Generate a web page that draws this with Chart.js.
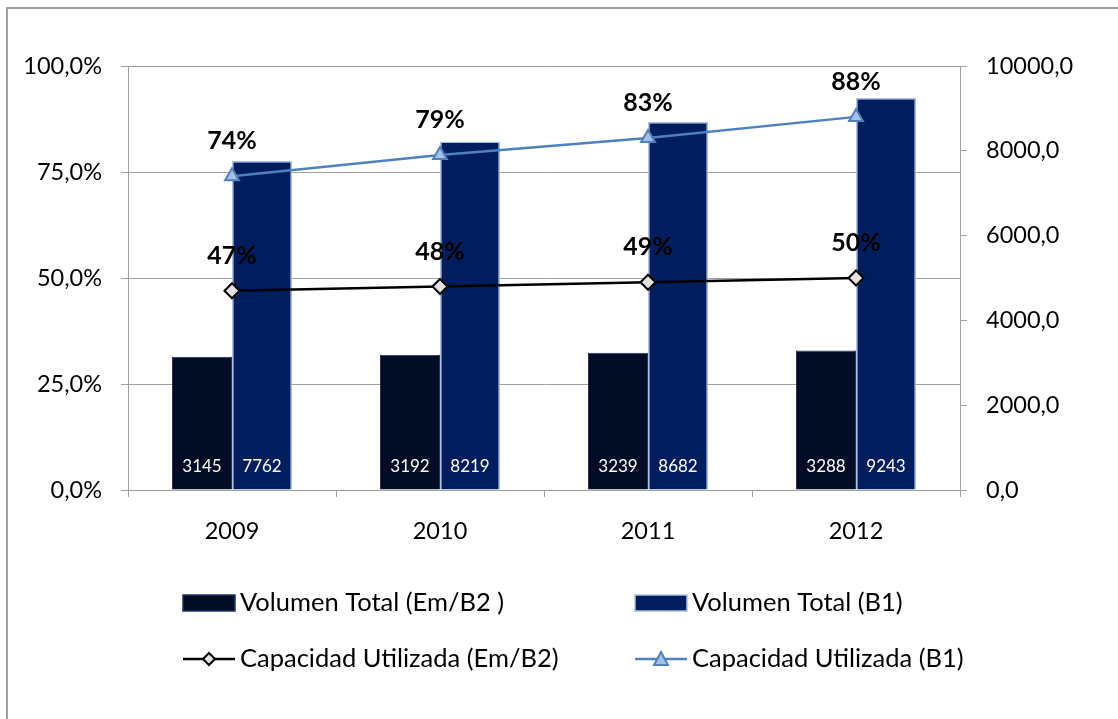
<!DOCTYPE html>
<html>
<head>
<meta charset="utf-8">
<script src="https://cdn.jsdelivr.net/npm/chart.js@4.4.1/dist/chart.umd.min.js"></script>
<style>
  html, body { margin: 0; padding: 0; background: #fff; }
  #wrap { position: relative; width: 1118px; height: 719px; overflow: hidden; }
</style>
</head>
<body>
<div id="wrap"><canvas id="myChart" width="1118" height="719"></canvas></div>
<script>
const years = ['2009', '2010', '2011', '2012'];
const volumenEmB2 = [3145, 3192, 3239, 3288];
const volumenB1 = [7762, 8219, 8682, 9243];
const capacidadEmB2 = [0.47, 0.48, 0.49, 0.50];
const capacidadB1 = [0.74, 0.79, 0.83, 0.88];

const FONT = 'Lato, "Open Sans", sans-serif';
const GRID = '#a0a0a0';

// outer frame (only top and left edge are inside the canvas)
const framePlugin = {
    id: 'frame',
    beforeDraw: function(chart) {
        const ctx = chart.ctx;
        ctx.save();
        ctx.strokeStyle = '#a0a0a0';
        ctx.lineWidth = 2;
        ctx.beginPath();
        ctx.moveTo(7, chart.height + 5);
        ctx.lineTo(7, 8);
        ctx.lineTo(chart.width + 5, 8);
        ctx.stroke();
        ctx.restore();
    }
};

// value labels: numbers inside the bars, bold percentages above the points
const labelsPlugin = {
    id: 'valueLabels',
    afterDatasetsDraw: function(chart) {
        const ctx = chart.ctx;
        ctx.save();
        ctx.textAlign = 'center';
        ctx.textBaseline = 'middle';
        chart.data.datasets.forEach(function(ds, i) {
            const meta = chart.getDatasetMeta(i);
            meta.data.forEach(function(el, j) {
                const v = ds.data[j];
                if (ds.type === 'bar') {
                    ctx.fillStyle = '#ffffff';
                    ctx.font = '17px ' + FONT;
                    ctx.fillText(String(v), el.x, el.base - 23);
                } else {
                    ctx.fillStyle = '#000000';
                    ctx.font = 'bold 25px ' + FONT;
                    ctx.fillText(Math.round(v * 100) + '%', el.x, el.y - 35);
                }
            });
        });
        ctx.restore();
    }
};

// two-column legend under the chart
const legendPlugin = {
    id: 'gridLegend',
    afterDraw: function(chart) {
        const ctx = chart.ctx;
        const cols = [183, 635];
        const rows = [603, 659];
        const ds = chart.data.datasets;
        const slots = [[0, 0, 0], [1, 1, 0], [2, 0, 1], [3, 1, 1]];
        ctx.save();
        ctx.font = '25.5px ' + FONT;
        ctx.textBaseline = 'middle';
        ctx.textAlign = 'left';
        slots.forEach(function(s) {
            const d = ds[s[0]];
            const x = cols[s[1]];
            const y = rows[s[2]];
            if (d.type === 'bar') {
                ctx.fillStyle = d.backgroundColor;
                ctx.fillRect(x, y - 8, 52, 16);
                ctx.strokeStyle = d.borderColor;
                ctx.lineWidth = 1.5;
                ctx.strokeRect(x, y - 8, 52, 16);
            } else {
                ctx.strokeStyle = d.borderColor;
                ctx.lineWidth = d.borderWidth;
                ctx.beginPath();
                ctx.moveTo(x, y);
                ctx.lineTo(x + 52, y);
                ctx.stroke();
                ctx.fillStyle = d.pointBackgroundColor;
                ctx.strokeStyle = d.pointBorderColor;
                ctx.lineWidth = 2;
                ctx.beginPath();
                const cx = x + 26;
                if (d.pointStyle === 'triangle') {
                    ctx.moveTo(cx, y - 7);
                    ctx.lineTo(cx + 7, y + 6);
                    ctx.lineTo(cx - 7, y + 6);
                } else {
                    ctx.moveTo(cx, y - 6);
                    ctx.lineTo(cx + 6, y);
                    ctx.lineTo(cx, y + 6);
                    ctx.lineTo(cx - 6, y);
                }
                ctx.closePath();
                ctx.fill();
                ctx.stroke();
            }
            ctx.fillStyle = '#000';
            ctx.fillText(d.label, x + 57, y);
        });
        ctx.restore();
    }
};

const ctx = document.getElementById('myChart').getContext('2d');
const myChart = new Chart(ctx, {
    data: {
        labels: years,
        datasets: [
            {
                type: 'bar',
                label: 'Volumen Total (Em/B2 )',
                data: volumenEmB2,
                yAxisID: 'y1',
                backgroundColor: '#020c24',
                borderColor: '#1d3566',
                borderWidth: 1,
                categoryPercentage: 0.577,
                barPercentage: 1.0,
                order: 2
            },
            {
                type: 'bar',
                label: 'Volumen Total (B1)',
                data: volumenB1,
                yAxisID: 'y1',
                backgroundColor: '#001e5e',
                borderColor: '#a9c1e8',
                borderWidth: 1.5,
                categoryPercentage: 0.577,
                barPercentage: 1.0,
                order: 2
            },
            {
                type: 'line',
                label: 'Capacidad Utilizada (Em/B2)',
                data: capacidadEmB2,
                yAxisID: 'y',
                borderColor: '#000000',
                borderWidth: 2.5,
                pointStyle: 'rectRot',
                pointRadius: 7.5,
                pointBorderWidth: 2,
                pointBackgroundColor: '#e2e2e2',
                pointBorderColor: '#000000',
                tension: 0,
                order: 1
            },
            {
                type: 'line',
                label: 'Capacidad Utilizada (B1)',
                data: capacidadB1,
                yAxisID: 'y',
                borderColor: '#4f81bd',
                borderWidth: 2.5,
                pointStyle: 'triangle',
                pointRadius: 8,
                pointBorderWidth: 2,
                pointBackgroundColor: '#a5c0ea',
                pointBorderColor: '#4f81bd',
                tension: 0,
                order: 0
            }
        ]
    },
    options: {
        responsive: false,
        animation: false,
        layout: { padding: { top: 66, left: 0, right: 0, bottom: 0 } },
        plugins: {
            legend: { display: false },
            tooltip: { enabled: false }
        },
        scales: {
            x: {
                afterFit: function(scale) { scale.height = 229; },
                grid: {
                    offset: true,
                    drawOnChartArea: false,
                    drawTicks: true,
                    tickLength: 7,
                    color: GRID
                },
                border: { color: GRID, width: 1 },
                ticks: { color: '#000', padding: 20, font: { family: FONT, size: 23.5 } }
            },
            y: {
                position: 'left',
                min: 0,
                max: 1,
                afterFit: function(scale) { scale.width = 128; },
                grid: { color: GRID, tickLength: 7 },
                border: { color: GRID, width: 1 },
                ticks: {
                    stepSize: 0.25,
                    color: '#000',
                    padding: 19,
                    font: { family: FONT, size: 23.5 },
                    callback: function(v) { return (v * 100).toFixed(1).replace('.', ',') + '%'; }
                }
            },
            y1: {
                position: 'right',
                min: 0,
                max: 10000,
                afterFit: function(scale) { scale.width = 158; },
                grid: { drawOnChartArea: false, color: GRID, tickLength: 7 },
                border: { color: GRID, width: 1 },
                ticks: {
                    stepSize: 2000,
                    color: '#000',
                    padding: 19,
                    font: { family: FONT, size: 23.5 },
                    callback: function(v) { return v.toFixed(1).replace('.', ','); }
                }
            }
        }
    },
    plugins: [framePlugin, labelsPlugin, legendPlugin]
});
</script>
</body>
</html>
